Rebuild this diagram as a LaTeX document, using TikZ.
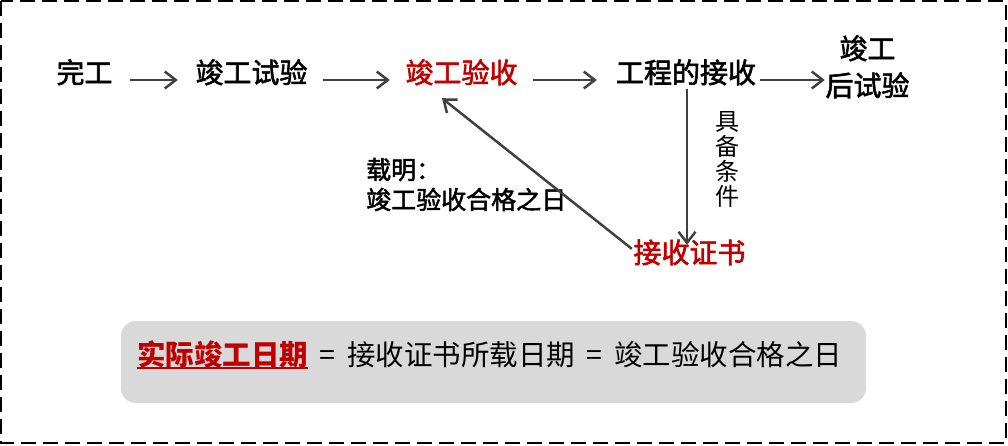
\documentclass[tikz,border=0pt]{standalone}
\usepackage{fontspec}
\setmainfont{Noto Sans CJK SC}
\newfontfamily\medfont{Noto Sans CJK SC}[FakeBold=2]
\usetikzlibrary{arrows.meta,calc}
\definecolor{dred}{HTML}{C00000}
\definecolor{agray}{HTML}{404040}
\definecolor{boxgray}{HTML}{D9D9D9}
\begin{document}
\begin{tikzpicture}[x=1pt,y=-1pt,
  lbl/.style={inner sep=0pt, font=\fontsize{28}{32}\medfont, text height=0.8em, text depth=0.2em},
  note/.style={inner sep=0pt, font=\fontsize{25}{30}\medfont, text height=0.8em, text depth=0.2em, anchor=west},
  arr/.style={draw=agray, line width=2.5pt, -{Straight Barb[length=11pt,width=17pt,line width=2.5pt]}},
  boxtxt/.style={inner sep=0pt, font=\fontsize{28.5}{32}\selectfont, text height=0.8em, text depth=0.2em, anchor=west}]
\useasboundingbox (0,0) rectangle (1008,445);
\draw[line width=2pt, dash pattern=on 15pt off 7pt] (1,1) rectangle (1006,443);

\node[lbl] (wg) at (84.5,80) {完工};
\node[lbl] (jgsy) at (251.5,80) {竣工试验};
\node[lbl,text=dred] (jgys) at (461.5,80) {竣工验收};
\node[lbl] (gcjs) at (686,80) {工程的接收};
\node[lbl] (hsy1) at (867.5,56) {竣工};
\node[lbl] (hsy2) at (867.5,93) {后试验};
\node[lbl,text=dred] (zs) at (689.5,260) {接收证书};

\node[inner sep=0pt, align=center, font=\fontsize{24}{25}\selectfont] (jbtj) at (727,159) {具\\备\\条\\件};

\node[note] (n1) at (366,176) {载明：};
\node[note] (n2) at (366,206) {竣工验收合格之日};

\coordinate (vs) at ($(gcjs.south)+(1,0)$);
\draw[arr, shorten <=17.5pt, shorten >=17.5pt] (wg.east) -- (jgsy.west);
\draw[arr, shorten <=15.5pt, shorten >=15.5pt] (jgsy.east) -- (jgys.west);
\draw[arr, shorten <=15.5pt, shorten >=19pt] (jgys.east) -- (gcjs.west);
\draw[arr, shorten <=4pt, shorten >=0.5pt] (gcjs.east) -- (gcjs.east -| hsy2.west);
\draw[arr, shorten <=4pt, shorten >=10pt] (vs) -- (vs |- zs.north);
\draw[arr] ($(zs.north west)+(-1.5,-6)$) -- ($(jgys.south)+(-19.5,13)$);

\node[fill=boxgray, rounded corners=15pt, minimum width=745pt, minimum height=82pt, inner sep=0pt] (bg) at (493.5,362) {};
\node[boxtxt, font=\fontsize{28.5}{32}\selectfont\bfseries, text=dred] (sj) at (137,362) {实际竣工日期};
\draw[dred, line width=2pt] ($(sj.south west)+(0,1)$) -- ($(sj.south east)+(0,1)$);
\node[boxtxt] (eq) at (sj.east) {\hspace{11pt}=\hspace{12pt}接收证书所载日期\hspace{11pt}=\hspace{12pt}竣工验收合格之日};
\end{tikzpicture}
\end{document}
